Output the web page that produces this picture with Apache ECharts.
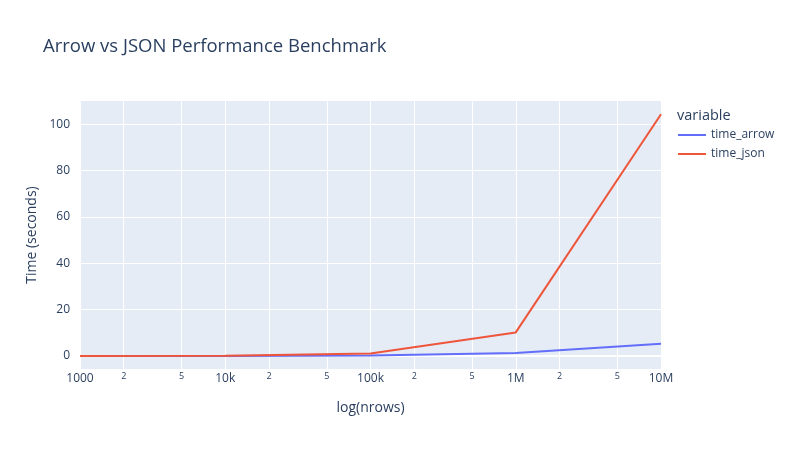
<!DOCTYPE html>
<html>
<head>
<meta charset="utf-8">
<script src="https://cdn.jsdelivr.net/npm/echarts@6/dist/echarts.min.js"></script>
<style>
  html, body {margin: 0; padding: 0; background: #fff;}
  #chart {width: 800px; height: 450px;}
</style>
</head>
<body>
<div id="chart"></div>
<script>
// benchmark data
var nrows = [1000, 10000, 100000, 1000000, 10000000];
var timeArrow = [0.01, 0.04, 0.25, 1.3, 5.3];
var timeJson = [0.01, 0.1, 1.1, 10.2, 104.4];

// x ticks: 1, 2, 5 in each decade
var xTickValues = [1000, 2000, 5000, 10000, 20000, 50000, 100000, 200000, 500000,
  1000000, 2000000, 5000000, 10000000];
var xTickLabels = ['1000', '2', '5', '10k', '2', '5', '100k', '2', '5', '1M', '2', '5', '10M'];
var yTickValues = [0, 20, 40, 60, 80, 100];

var textColor = '#2a3f5f';
var font = '"Open Sans", Verdana, sans-serif';

// x axis is drawn in log10 space
var lg = function (v) { return Math.log10(v); };

function pairs(xs, ys) {
  return xs.map(function (x, i) { return [lg(x), ys[i]]; });
}

function xLabel(value) {
  var idx = -1;
  xTickValues.forEach(function (v, i) {
    if (Math.abs(lg(v) - value) < 1e-6) idx = i;
  });
  if (idx < 0) return '';
  var s = xTickLabels[idx];
  return (s === '2' || s === '5') ? '{minor|' + s + '}' : '{major|' + s + '}';
}

var chart = echarts.init(document.getElementById('chart'));
chart.setOption({
  animation: false,
  textStyle: {fontFamily: font},
  title: [{
    text: 'Arrow vs JSON Performance Benchmark',
    left: 38,
    top: 32,
    textStyle: {fontFamily: font, fontSize: 18.5, fontWeight: 'normal', color: textColor}
  }, {
    text: 'variable',
    left: 672,
    top: 103,
    textStyle: {fontFamily: font, fontSize: 14.5, fontWeight: 'normal', color: textColor}
  }],
  legend: {
    orient: 'vertical',
    left: 673,
    top: 124,
    icon: 'rect',
    itemWidth: 28,
    itemHeight: 2,
    itemGap: 7,
    textStyle: {fontFamily: font, fontSize: 12, color: textColor},
    data: ['time_arrow', 'time_json']
  },
  grid: {
    left: 80,
    right: 139,
    top: 101,
    bottom: 81,
    show: true,
    backgroundColor: '#E5ECF6',
    borderWidth: 0
  },
  xAxis: {
    type: 'value',
    min: lg(xTickValues[0]),
    max: lg(xTickValues[xTickValues.length - 1]),
    name: 'log(nrows)',
    nameLocation: 'middle',
    nameGap: 32,
    nameTextStyle: {fontFamily: font, fontSize: 14, color: textColor},
    axisLine: {show: false},
    axisTick: {show: false, customValues: xTickValues.map(lg)},
    splitLine: {show: true, lineStyle: {color: '#fff', width: 1}},
    axisLabel: {
      customValues: xTickValues.map(lg),
      margin: 3,
      color: textColor,
      fontSize: 12,
      fontFamily: font,
      hideOverlap: false,
      formatter: xLabel,
      rich: {
        major: {fontSize: 12, lineHeight: 14, color: textColor, fontFamily: font},
        minor: {fontSize: 9, lineHeight: 9, color: textColor, fontFamily: font}
      }
    }
  },
  yAxis: {
    type: 'value',
    min: -5.6,
    max: 110.1,
    name: 'Time (seconds)',
    nameLocation: 'middle',
    nameGap: 41,
    nameTextStyle: {fontFamily: font, fontSize: 14, color: textColor},
    axisLine: {show: false},
    axisTick: {show: false, customValues: yTickValues},
    splitLine: {show: true, lineStyle: {color: '#fff', width: 1}},
    axisLabel: {
      customValues: yTickValues,
      margin: 10,
      color: textColor,
      fontSize: 12,
      fontFamily: font
    }
  },
  series: [{
    name: 'time_arrow',
    type: 'line',
    data: pairs(nrows, timeArrow),
    symbol: 'none',
    lineStyle: {color: '#636efa', width: 2},
    itemStyle: {color: '#636efa'},
    z: 3,
    // white zero line, kept under the traces
    markLine: {
      silent: true,
      z: 1,
      symbol: 'none',
      label: {show: false},
      lineStyle: {color: '#fff', width: 2, type: 'solid'},
      data: [{yAxis: 0}]
    }
  }, {
    name: 'time_json',
    type: 'line',
    data: pairs(nrows, timeJson),
    symbol: 'none',
    lineStyle: {color: '#EF553B', width: 2},
    itemStyle: {color: '#EF553B'},
    z: 4
  }]
});
</script>
</body>
</html>
